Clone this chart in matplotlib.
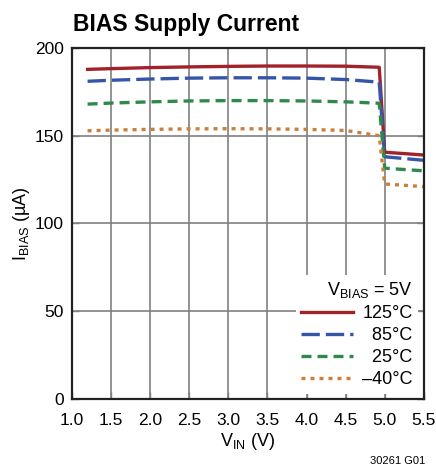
import matplotlib
matplotlib.use('Agg')
from matplotlib import pyplot as plt

plt.rcParams['font.family'] = ['Liberation Sans', 'DejaVu Sans']
plt.rcParams['mathtext.fontset'] = 'custom'
plt.rcParams['mathtext.rm'] = 'Liberation Sans'

# supply voltage (V) and bias current (uA) per temperature
vin = [1.2, 1.5, 2.0, 2.5, 3.0, 3.5, 4.0, 4.5, 4.93, 5.0, 5.5]
i_125 = [187.8, 188.2, 188.8, 189.2, 189.5, 189.7, 189.7, 189.6, 189.0, 140.6, 139.0]
i_85 = [181.0, 181.6, 182.3, 182.8, 183.0, 183.0, 182.8, 182.0, 180.5, 138.0, 136.0]
i_25 = [168.0, 168.6, 169.3, 169.8, 170.0, 170.0, 169.8, 169.3, 168.5, 131.5, 130.0]
i_m40 = [152.8, 153.2, 153.6, 153.9, 154.0, 153.9, 153.6, 153.0, 150.0, 122.5, 121.0]

series = [
    (i_125, '125°C', '#a2222b', '-'),
    (i_85, '\u200785°C', '#3556a8', (0, (5.5, 1.8))),
    (i_25, '\u200725°C', '#2e8a4c', (0, (3, 1.8))),
    (i_m40, '\u201340°C', '#c9803c', (0, (1.2, 1.5))),
]

fig = plt.figure(figsize=(4.36, 4.70), dpi=100)
ax = fig.add_axes([0.165, 0.151, 0.807, 0.747])

for y, label, color, ls in series:
    ax.plot(vin, y, color=color, linestyle=ls, linewidth=2.4, label=label)

ax.set_xlim(1.0, 5.5)
ax.set_ylim(0, 200)
ax.set_xticks([1.0, 1.5, 2.0, 2.5, 3.0, 3.5, 4.0, 4.5, 5.0, 5.5])
ax.set_yticks([0, 50, 100, 150, 200])
ax.grid(True, color='#808080', linewidth=1.2)
ax.tick_params(direction='in', length=5, width=1, color='#808080',
               labelsize=12.5, top=False, right=True)
ax.tick_params(axis='x', pad=10)
ax.tick_params(axis='y', pad=6)
for s in ax.spines.values():
    s.set_linewidth(1.6)
    s.set_color('#222222')

ax.set_xlabel(r'V$_{\mathregular{IN}}$ (V)', fontsize=13, labelpad=2)
ax.set_ylabel(r'I$_{\mathregular{BIAS}}$ (µA)', fontsize=13, labelpad=2)

leg = ax.legend(title=r'V$_{\mathregular{BIAS}}$ = 5V', loc='lower right',
                fontsize=13, title_fontsize=13, frameon=True, fancybox=False,
                edgecolor='none', framealpha=1, handlelength=2.9,
                handletextpad=0.5, labelspacing=0.28, borderaxespad=0.3,
                borderpad=0.3, alignment='right')

fig.text(0.168, 0.935, 'BIAS Supply Current', fontsize=16.5, fontweight='bold')
fig.text(0.975, 0.012, '30261 G01', fontsize=8, ha='right')

fig.savefig('out.png', dpi=100)
